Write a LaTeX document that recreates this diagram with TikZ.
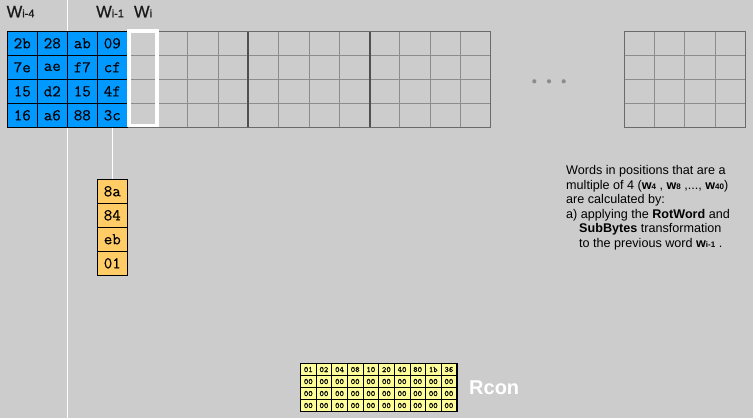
\documentclass[tikz,border=0pt]{standalone}
\usepackage{fontspec}
\setmainfont{Liberation Sans}
\newfontfamily\hexfont[FakeBold=0.3]{Latin Modern Mono}
\newfontfamily\labfont[FakeBold=0.7]{Liberation Sans}
\definecolor{bgc}{HTML}{CCCCCC}
\definecolor{bluec}{HTML}{0099FF}
\definecolor{yelc}{HTML}{FFCC66}
\definecolor{rconc}{HTML}{FFFF99}
\definecolor{thinc}{HTML}{8C8C8C}
\definecolor{outc}{HTML}{6A6A6A}
\definecolor{thickc}{HTML}{505050}
\definecolor{labc}{HTML}{1A1A1A}
\begin{document}
\begin{tikzpicture}[x=1pt,y=-1pt,
  hexcell/.style={draw=black, line width=0.8pt, fill=bluec, minimum width=30pt, minimum height=24pt, inner sep=0pt, font=\hexfont\fontsize{16.5}{16.5}\selectfont, text=black},
  yelcell/.style={hexcell, fill=yelc},
  rconcell/.style={draw=black, line width=0.5pt, fill=rconc, minimum width=15.62pt, minimum height=12pt, inner sep=0pt, font=\hexfont\fontsize{8.3}{8.3}\selectfont, text=black},
  gridthin/.style={draw=thinc, line width=0.9pt},
  gridouter/.style={draw=outc, line width=1.3pt},
  gridthick/.style={draw=thickc, line width=2pt},
  wlabel/.style={anchor=base west, inner sep=0pt, text=labc, font=\labfont},
  txt/.style={anchor=base west, inner sep=0pt, text=black, font=\fontsize{12.6}{14.5}\selectfont},
  dotst/.style={fill=thinc}
]
\fill[bgc] (0,0) rectangle (753,418);
\useasboundingbox (0,0) rectangle (753,418);

% long white vertical line
\coordinate (vtop) at (67.3,0);
\coordinate (vbot) at (67.3,418);
\draw[white, line width=1pt] (vtop) -- (vbot);

% gray grid (words w_i ... )
\foreach \j in {1,2,3} \draw[gridthin] (127.3,{31.3+24*\j}) -- (490.7,{31.3+24*\j});
\foreach \k in {1,2,3,5,6,7,9,10,11} \draw[gridthin] ({127.3+30.28*\k},31.3) -- ++(0,96);
\foreach \k in {4,8} \draw[gridthick] ({127.3+30.28*\k},31.3) -- ++(0,96);
\draw[gridouter] (127.3,31.3) rectangle (490.7,127.3);

% right grid
\foreach \j in {1,2,3} \draw[gridthin] (624.3,{31.3+24*\j}) -- (745.3,{31.3+24*\j});
\foreach \k in {1,2,3} \draw[gridthin] ({624.3+30.25*\k},31.3) -- ++(0,96);
\draw[gridouter] (624.3,31.3) rectangle (745.3,127.3);

% dots
\fill[dotst] (534.3,81.3) circle (2.1);
\fill[dotst] (549.0,81.3) circle (2.1);
\fill[dotst] (563.7,81.3) circle (2.1);

% blue state words
\foreach \r/\a/\b/\c/\d in {0/2b/28/ab/09,1/7e/ae/f7/cf,2/15/d2/15/4f,3/16/a6/88/3c} {
  \node[hexcell] (b\r0) at (22.3,{43.3+24*\r}) {\a};
  \node[hexcell] (b\r1) at (52.3,{43.3+24*\r}) {\b};
  \node[hexcell] (b\r2) at (82.3,{43.3+24*\r}) {\c};
  \node[hexcell] (b\r3) at (112.3,{43.3+24*\r}) {\d};
}

% white W_i box
\node[draw=white, line width=3.3pt, minimum width=28pt, minimum height=94.7pt, inner sep=0pt] (wi) at (143,78.35) {};

% yellow column
\node[yelcell] (y0) at (112.3,191.3) {8a};
\node[yelcell] (y1) at (112.3,215.3) {84};
\node[yelcell] (y2) at (112.3,239.3) {eb};
\node[yelcell] (y3) at (112.3,263.3) {01};
\draw[white, line width=1pt] (b33.south) -- (y0.north);

% labels
\node[wlabel] (lw4) at (6.5,17.3) {\fontsize{16.5}{16.5}\selectfont W\fontsize{11}{11}\selectfont i-4};
\node[wlabel] (lw1) at (96.0,17.3) {\fontsize{16.5}{16.5}\selectfont W\fontsize{11}{11}\selectfont i-1};
\node[wlabel] (lwi) at (133.8,17.3) {\fontsize{16.5}{16.5}\selectfont W\fontsize{11}{11}\selectfont i};

% explanatory text
\newcommand{\subw}[1]{\textbf{w}{\fontsize{8}{8}\selectfont\textbf{#1}}}
\node[txt] (t1) at (566,174.7) {Words in positions that are a};
\node[txt] (t2) at (566,189.3) {multiple of 4 (\subw{4} , \subw{8} ,..., \subw{40})};
\node[txt] (t3) at (566,203.8) {are calculated by:};
\node[txt] (t4) at (566,218.3) {a) applying the \textbf{RotWord} and};
\node[txt] (t5) at (579,232.8) {\textbf{SubBytes} transformation};
\node[txt] (t6) at (579,247.3) {to the previous word \subw{i-1} .};

% Rcon table
\foreach \c/\v in {0/01,1/02,2/04,3/08,4/10,5/20,6/40,7/80,8/1b,9/36} {
  \node[rconcell] (r0\c) at ({300.5+15.62*(\c+0.5)},369.5) {\v};
  \node[rconcell] (r1\c) at ({300.5+15.62*(\c+0.5)},381.5) {00};
  \node[rconcell] (r2\c) at ({300.5+15.62*(\c+0.5)},393.5) {00};
  \node[rconcell] (r3\c) at ({300.5+15.62*(\c+0.5)},405.5) {00};
}
\draw[black, line width=1.1pt] (r00.north west) rectangle (r39.south east);
\node[anchor=base west, inner sep=0pt, text=white, font=\bfseries\fontsize{20}{20}\selectfont] (rcon) at (469,394.7) {Rcon};
\end{tikzpicture}
\end{document}
